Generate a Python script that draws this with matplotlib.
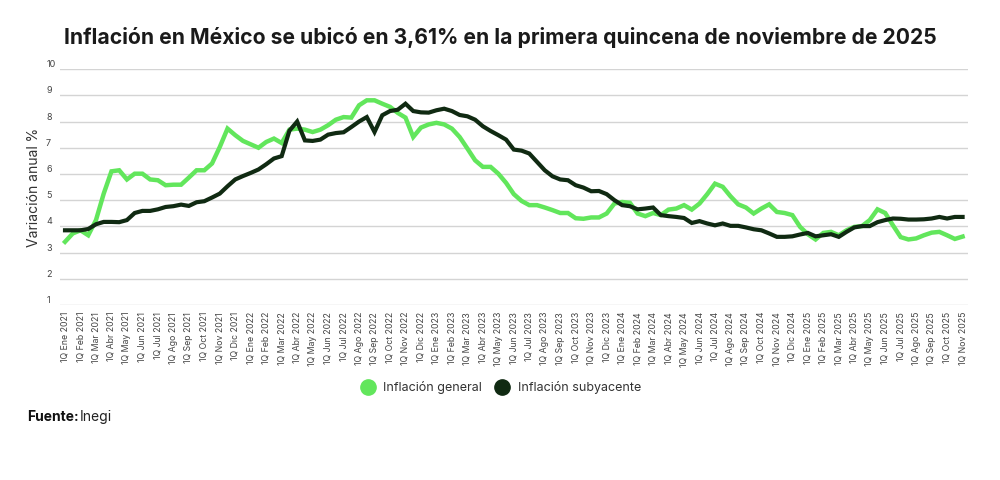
import numpy as np
import matplotlib
matplotlib.use("Agg")
import matplotlib.pyplot as plt
from matplotlib.lines import Line2D

plt.rcParams['font.family'] = ['Inter', 'DejaVu Sans']

# biweekly data, 1Q Ene 2021 .. 1Q Nov 2025
general = [
    3.41, 3.73, 3.85, 3.66, 4.24, 5.25, 6.10, 6.14, 5.79, 6.01,
    6.01, 5.79, 5.76, 5.57, 5.59, 5.59, 5.86, 6.14, 6.14, 6.40,
    7.03, 7.73, 7.48, 7.26, 7.13, 7.00, 7.22, 7.35, 7.18, 7.69,
    7.73, 7.69, 7.60, 7.69, 7.86, 8.07, 8.17, 8.15, 8.62, 8.81,
    8.81, 8.68, 8.56, 8.33, 8.15, 7.41, 7.77, 7.89, 7.95, 7.89,
    7.73, 7.41, 6.97, 6.52, 6.27, 6.27, 6.01, 5.66, 5.23, 4.97,
    4.81, 4.81, 4.72, 4.62, 4.51, 4.51, 4.31, 4.29, 4.34, 4.34,
    4.49, 4.87, 4.93, 4.90, 4.49, 4.39, 4.51, 4.43, 4.64, 4.68,
    4.81, 4.64, 4.87, 5.23, 5.63, 5.51, 5.15, 4.84, 4.72, 4.49,
    4.68, 4.84, 4.55, 4.51, 4.43, 3.98, 3.70, 3.50, 3.75, 3.79,
    3.66, 3.85, 3.98, 4.01, 4.24, 4.65, 4.51, 4.04, 3.59, 3.50,
    3.54, 3.66, 3.76, 3.79, 3.66, 3.52, 3.61,
]
subyacente = [
    3.85, 3.85, 3.85, 3.90, 4.08, 4.17, 4.17, 4.16, 4.24, 4.51,
    4.59, 4.59, 4.65, 4.74, 4.77, 4.83, 4.78, 4.92, 4.96, 5.10,
    5.25, 5.53, 5.79, 5.92, 6.04, 6.17, 6.37, 6.59, 6.68, 7.65,
    8.00, 7.28, 7.26, 7.31, 7.50, 7.56, 7.59, 7.79, 8.00, 8.17,
    7.60, 8.24, 8.40, 8.45, 8.68, 8.40, 8.35, 8.34, 8.43, 8.49,
    8.40, 8.25, 8.20, 8.07, 7.82, 7.64, 7.48, 7.31, 6.93, 6.89,
    6.78, 6.46, 6.14, 5.91, 5.79, 5.76, 5.57, 5.48, 5.34, 5.35,
    5.23, 5.00, 4.81, 4.77, 4.65, 4.68, 4.72, 4.43, 4.39, 4.36,
    4.32, 4.13, 4.20, 4.11, 4.04, 4.11, 4.02, 4.02, 3.96, 3.89,
    3.85, 3.73, 3.60, 3.60, 3.62, 3.69, 3.75, 3.62, 3.66, 3.70,
    3.60, 3.79, 3.96, 4.01, 4.01, 4.16, 4.24, 4.30, 4.29, 4.26,
    4.26, 4.27, 4.30, 4.36, 4.30, 4.36, 4.36,
]

meses = ['Ene', 'Feb', 'Mar', 'Abr', 'May', 'Jun', 'Jul', 'Ago', 'Sep', 'Oct', 'Nov', 'Dic']
years = [2021, 2022, 2023, 2024, 2025]
tick_labels = [f'1Q {m} {y}' for y in years for m in meses][:59]

c_general = '#62e65c'
c_sub = '#102a12'

fig = plt.figure(figsize=(10, 4.8), dpi=100)
ax = fig.add_axes([0.06, 0.3646, 0.908, 0.4914])

x = np.arange(len(general))
ax.plot(x, general, color=c_general, lw=3.2, solid_joinstyle='miter', zorder=3)
ax.plot(x, subyacente, color=c_sub, lw=3.0, solid_joinstyle='miter', zorder=4)

ax.set_xlim(-0.65, 116.7)
ax.set_ylim(1, 10)
ax.set_yticks(range(1, 11))
ax.grid(axis='y', color='#d4d4d4', lw=1.0)
ax.set_axisbelow(True)
for s in ax.spines.values():
    s.set_visible(False)

ax.tick_params(axis='y', length=0, labelsize=6.5, labelcolor='#444444')
for lab in ax.get_yticklabels():
    lab.set_verticalalignment('bottom')
    lab.set_horizontalalignment('left')
ax.yaxis.set_tick_params(pad=10)

ax.set_xticks(x[::2])
ax.set_xticklabels(tick_labels, rotation=90, fontsize=6.3, color='#444444')
ax.tick_params(axis='x', length=0, pad=5)

ax.set_ylabel('Variación anual %', fontsize=10, color='#333333', labelpad=4)

fig.text(0.5, 0.921, 'Inflación en México se ubicó en 3,61% en la primera quincena de noviembre de 2025',
         ha='center', va='center', fontsize=15.2, fontweight='bold', color='#1a1a1a')

handles = [Line2D([], [], ls='none', marker='o', ms=11, color=c_general, label='Inflación general'),
           Line2D([], [], ls='none', marker='o', ms=11, color=c_sub, label='Inflación subyacente')]
fig.legend(handles=handles, loc='center', bbox_to_anchor=(0.498, 0.192), ncol=2, frameon=False,
           fontsize=9, handletextpad=0.25, columnspacing=0.6, labelcolor='#333333')

fig.text(0.027, 0.131, 'Fuente:', fontsize=10, fontweight='bold', color='#111111', va='center')
fig.text(0.080, 0.131, 'Inegi', fontsize=10, color='#222222', va='center')

fig.savefig('out.png', dpi=100, facecolor='white')
